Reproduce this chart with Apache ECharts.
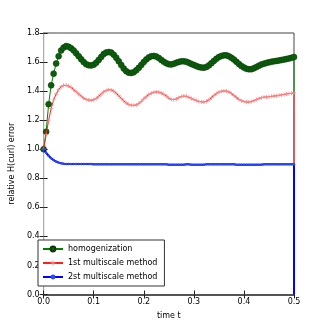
<!DOCTYPE html>
<html>
<head>
<meta charset="utf-8">
<script src="https://cdn.jsdelivr.net/npm/echarts@6/dist/echarts.min.js"></script>
<style>html,body{margin:0;padding:0;background:#fff}#c{width:327px;height:327px}</style>
</head>
<body>
<div id="c"></div>
<script>
var times = [0.000,0.005,0.010,0.015,0.020,0.025,0.030,0.035,0.040,0.045,
0.050,0.055,0.060,0.065,0.070,0.075,0.080,0.085,0.090,0.095,
0.100,0.105,0.110,0.115,0.120,0.125,0.130,0.135,0.140,0.145,
0.150,0.155,0.160,0.165,0.170,0.175,0.180,0.185,0.190,0.195,
0.200,0.205,0.210,0.215,0.220,0.225,0.230,0.235,0.240,0.245,
0.250,0.255,0.260,0.265,0.270,0.275,0.280,0.285,0.290,0.295,
0.300,0.305,0.310,0.315,0.320,0.325,0.330,0.335,0.340,0.345,
0.350,0.355,0.360,0.365,0.370,0.375,0.380,0.385,0.390,0.395,
0.400,0.405,0.410,0.415,0.420,0.425,0.430,0.435,0.440,0.445,
0.450,0.455,0.460,0.465,0.470,0.475,0.480,0.485,0.490,0.495,
0.500,0.500];

var homogenization = [1.00,1.12,1.31,1.44,1.52,1.59,1.64,1.68,1.70,1.71,
1.705,1.695,1.68,1.66,1.64,1.62,1.60,1.585,1.578,1.577,
1.582,1.595,1.615,1.635,1.655,1.665,1.669,1.665,1.65,1.63,
1.605,1.58,1.555,1.537,1.527,1.525,1.53,1.543,1.56,1.58,
1.60,1.618,1.632,1.64,1.642,1.638,1.628,1.615,1.602,1.592,
1.585,1.584,1.588,1.595,1.601,1.605,1.605,1.602,1.595,1.587,
1.58,1.572,1.566,1.562,1.561,1.566,1.577,1.592,1.608,1.622,
1.634,1.642,1.646,1.646,1.64,1.63,1.617,1.602,1.587,1.573,
1.562,1.554,1.55,1.551,1.557,1.566,1.575,1.583,1.589,1.594,
1.598,1.602,1.605,1.608,1.611,1.614,1.617,1.621,1.625,1.629,
1.634,1.39];

var multiscale1 = [1.00,1.10,1.20,1.28,1.34,1.38,1.41,1.43,1.44,1.44,
1.435,1.425,1.41,1.395,1.38,1.365,1.352,1.343,1.338,1.337,
1.34,1.35,1.364,1.38,1.395,1.405,1.41,1.408,1.40,1.385,
1.368,1.35,1.333,1.318,1.308,1.303,1.302,1.305,1.315,1.33,
1.347,1.362,1.376,1.386,1.392,1.394,1.393,1.387,1.378,1.366,
1.352,1.343,1.341,1.346,1.355,1.363,1.366,1.364,1.358,1.35,
1.342,1.335,1.329,1.326,1.325,1.33,1.34,1.355,1.37,1.383,
1.393,1.399,1.401,1.40,1.394,1.384,1.37,1.356,1.343,1.334,
1.328,1.325,1.325,1.328,1.334,1.342,1.35,1.355,1.358,1.36,
1.362,1.364,1.366,1.368,1.371,1.374,1.377,1.38,1.383,1.385,
1.387,0.02];

var multiscale2 = [1.00,0.975,0.955,0.938,0.925,0.915,0.908,0.903,0.900,0.899,
0.898,0.898,0.898,0.898,0.898,0.898,0.898,0.898,0.898,0.898,
0.897,0.897,0.897,0.897,0.897,0.897,0.897,0.897,0.897,0.897,
0.896,0.896,0.896,0.896,0.896,0.896,0.896,0.896,0.896,0.896,
0.896,0.896,0.896,0.896,0.896,0.896,0.896,0.896,0.896,0.896,
0.893,0.893,0.893,0.893,0.893,0.893,0.893,0.896,0.896,0.893,
0.893,0.893,0.893,0.893,0.893,0.896,0.896,0.896,0.896,0.896,
0.896,0.896,0.896,0.896,0.896,0.896,0.896,0.893,0.893,0.893,
0.893,0.893,0.893,0.893,0.893,0.893,0.893,0.893,0.896,0.896,
0.896,0.896,0.896,0.896,0.896,0.896,0.896,0.896,0.896,0.896,
0.896,0.0];

var seriesNames = ['homogenization','1st multiscale method','2st multiscale method'];
var xTicks = [0.0,0.1,0.2,0.3,0.4,0.5];
var yTicks = [0.0,0.2,0.4,0.6,0.8,1.0,1.2,1.4,1.6,1.8];

function pairs(arr){
  return arr.map(function(v,i){
    var d = {value:[times[i], v]};
    if (i === arr.length - 1) { d.symbol = 'none'; }
    return d;
  });
}

var chart = echarts.init(document.getElementById('c'), null, {renderer:'canvas'});
var font = 'DejaVu Sans';
var plusPath = 'path://M4,0H6V4H10V6H6V10H4V6H0V4H4Z';

var axisCommon = {
  axisLine:{show:true, lineStyle:{color:'#222', width:1}},
  axisTick:{show:true, inside:true, length:4, lineStyle:{color:'#222'}},
  splitLine:{show:false}
};

chart.setOption({
  animation:false,
  backgroundColor:'#fff',
  grid:{left:41, right:33, top:33, bottom:32.5, show:true, borderColor:'#444', borderWidth:1},
  xAxis:[
    Object.assign({type:'value', min:0, max:0.5, interval:0.1, position:'bottom',
      name:'time t', nameLocation:'middle', nameGap:17,
      nameTextStyle:{fontFamily:font, fontSize:8, color:'#000'},
      axisLabel:{fontFamily:font, fontSize:8, color:'#000', margin:3,
        formatter:function(v){ return v.toFixed(1); }}}, axisCommon),
    Object.assign({type:'value', min:0, max:0.5, interval:0.1, position:'top',
      axisLabel:{show:false}}, axisCommon, {axisLine:{show:true, lineStyle:{color:'#555', width:2}}})
  ],
  yAxis:[
    Object.assign({type:'value', min:0, max:1.8, interval:0.2, position:'left',
      name:'relative H(curl) error', nameLocation:'middle', nameGap:25,
      nameTextStyle:{fontFamily:font, fontSize:8, color:'#000'},
      axisLabel:{fontFamily:font, fontSize:8, color:'#000', margin:4,
        formatter:function(v){ return v.toFixed(1); }}}, axisCommon),
    Object.assign({type:'value', min:0, max:1.8, interval:0.2, position:'right',
      axisLabel:{show:false}}, axisCommon, {axisLine:{show:true, lineStyle:{color:'#aaa', width:1}}})
  ],
  legend:{
    orient:'vertical', left:38, top:240,
    backgroundColor:'#fff', borderColor:'#333', borderWidth:1, borderRadius:0,
    padding:[5,7,5,4], itemGap:6, itemWidth:20, itemHeight:6,
    textStyle:{fontFamily:font, fontSize:8, color:'#000'},
    data:seriesNames
  },
  series:[
    {
      name:seriesNames[0], type:'line', data:pairs(homogenization),
      symbol:'circle', symbolSize:6, showSymbol:true,
      lineStyle:{color:'#008000', width:1},
      itemStyle:{color:'#0b5e0b', borderColor:'#0a3a0a', borderWidth:0.5},
      z:2
    },
    {
      name:seriesNames[1], type:'line', data:pairs(multiscale1),
      symbol:plusPath, symbolSize:4, showSymbol:true,
      lineStyle:{color:'#ff1f1f', width:1},
      itemStyle:{color:'#ff8585'},
      z:3
    },
    {
      name:seriesNames[2], type:'line', data:pairs(multiscale2),
      symbol:'circle', symbolSize:2.5, showSymbol:true,
      lineStyle:{color:'#0000ff', width:2},
      itemStyle:{color:'#2a48ff'},
      z:4
    }
  ]
});
</script>
</body>
</html>
